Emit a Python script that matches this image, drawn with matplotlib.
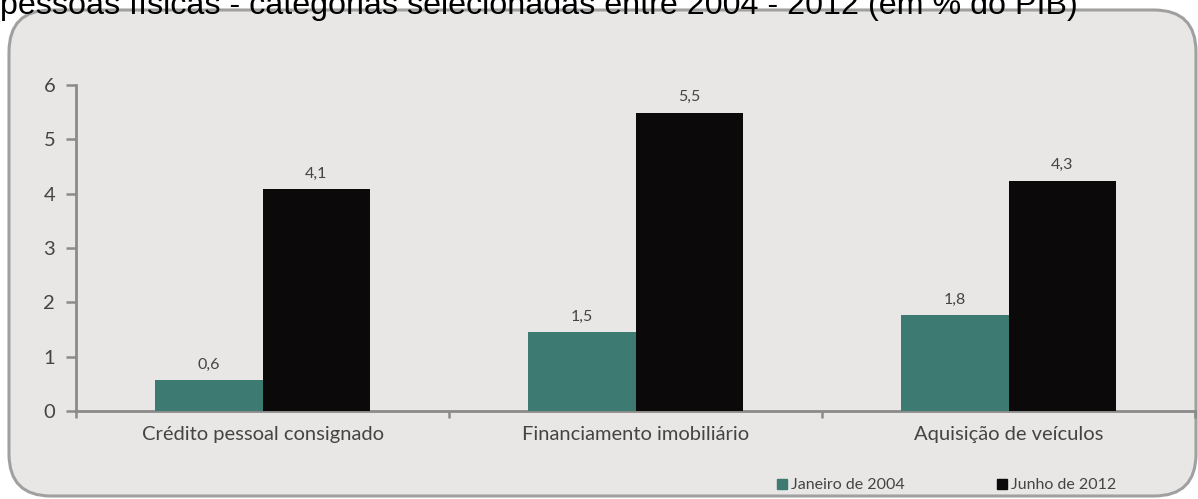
import matplotlib
matplotlib.use("Agg")
import matplotlib.pyplot as plt
from matplotlib.patches import FancyBboxPatch
from matplotlib.lines import Line2D
import numpy as np

categories = ["Crédito pessoal consignado", "Financiamento imobiliário", "Aquisição de veículos"]
series_names = ["Janeiro de 2004", "Junho de 2012"]
jan2004 = [0.57, 1.45, 1.77]
jun2012 = [4.09, 5.49, 4.24]
jan2004_labels = ["0,6", "1,5", "1,8"]
jun2012_labels = ["4,1", "5,5", "4,3"]
yticks = [0, 1, 2, 3, 4, 5, 6]
title = "pessoas físicas - categorias selecionadas entre 2004 - 2012 (em % do PIB)"

teal = "#3c7a72"
black = "#0b0909"
txt = "#444444"
axc = "#8a8a8a"
font = "Lato"

W, H = 1198, 499
fig = plt.figure(figsize=(W / 100, H / 100), dpi=100)
fig.patch.set_facecolor("white")

# rounded panel
box = FancyBboxPatch((9, 3), 1187, 486, boxstyle="round,pad=0,rounding_size=42",
                     transform=None, facecolor="#e8e7e5", edgecolor="#a0a0a0", linewidth=2.2,
                     zorder=-5)
fig.patches.append(box)

fig.text(0.0, 1 - 14 / H, title, fontsize=23.2, family="Liberation Sans", color="black",
         ha="left", va="baseline")

ax = fig.add_axes([76 / W, 1 - 411 / H, (1195 - 76) / W, (411 - 85) / H])
ax.set_facecolor("none")
x = np.arange(len(categories))
bw = 0.287
b1 = ax.bar(x - bw / 2, jan2004, bw, color=teal, zorder=3)
b2 = ax.bar(x + bw / 2, jun2012, bw, color=black, zorder=3)
for bars, labs in ((b1, jan2004_labels), (b2, jun2012_labels)):
    for b, l in zip(bars, labs):
        ax.annotate(l, (b.get_x() + b.get_width() / 2, b.get_height()), xytext=(0, 6),
                    textcoords="offset points", ha="center", va="bottom",
                    fontsize=11.5, family=font, color=txt)

ax.set_xlim(-0.5, len(categories) - 0.5)
ax.set_ylim(0, 6)
ax.set_yticks(yticks)
ax.set_yticklabels([str(v) for v in yticks], fontsize=14.5, family=font, color=txt)
ax.set_xticks(x)
ax.set_xticklabels(categories, fontsize=14.5, family=font, color=txt)
ax.tick_params(axis="x", length=0, pad=11)
ax.set_xticks(np.arange(-0.5, len(categories), 1.0), minor=True)
ax.tick_params(axis="x", which="minor", length=5, width=1.8, color=axc, direction="out")
ax.tick_params(axis="y", length=7, width=1.8, color=axc, pad=8)
for s in ("top", "right"):
    ax.spines[s].set_visible(False)
for s in ("left", "bottom"):
    ax.spines[s].set_color(axc)
    ax.spines[s].set_linewidth(2)

handles = [Line2D([], [], marker="s", linestyle="none", markersize=7, color=teal),
           Line2D([], [], marker="s", linestyle="none", markersize=7, color=black)]
leg = fig.legend(handles, series_names, loc="center left", bbox_to_anchor=(763 / W, 1 - 485 / H),
                 ncol=2, frameon=False, handlelength=0.6, handletextpad=0.25, columnspacing=5.8,
                 prop={"family": font, "size": 11.5})
for t in leg.get_texts():
    t.set_color(txt)

fig.savefig("out.png", dpi=100)
